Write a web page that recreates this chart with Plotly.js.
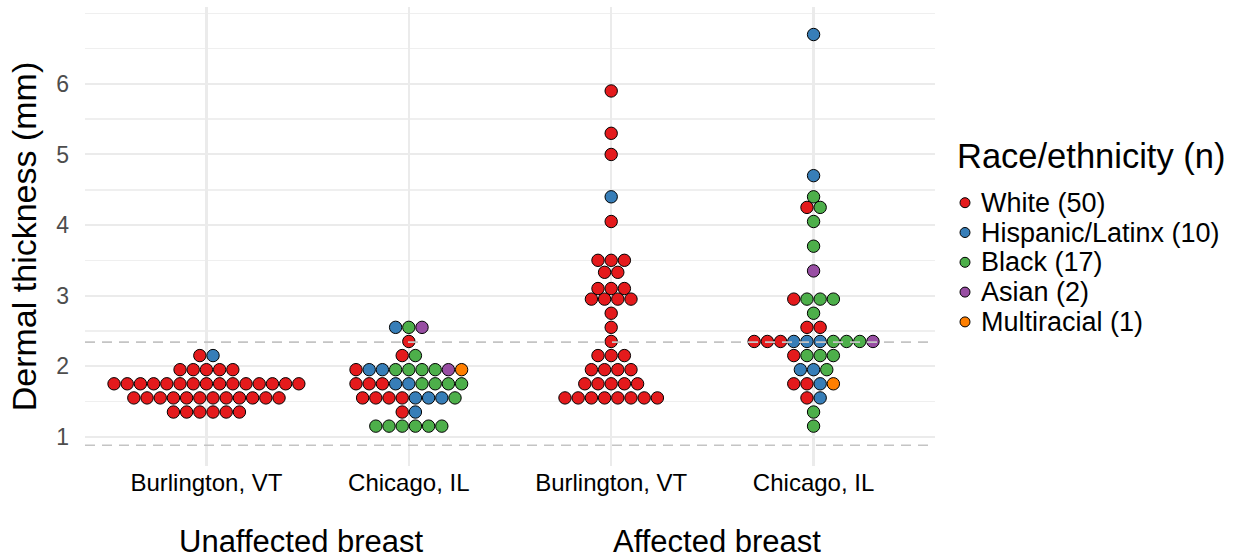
<!DOCTYPE html>
<html><head><meta charset="utf-8">
<script src="https://cdn.plot.ly/plotly-3.0.1.min.js"></script>
<style>html,body{margin:0;padding:0;background:#fff}#chart{width:1234px;height:559px}</style>
</head><body><div id="chart"></div>
<script>
// ---- data ----
const siteLabels = ["Burlington, VT", "Chicago, IL", "Burlington, VT", "Chicago, IL"];
const breastLabels = ["Unaffected breast", "Affected breast"];
const raceCodes = ["W", "H", "B", "A", "M"];
const raceNames = ["White", "Hispanic/Latinx", "Black", "Asian", "Multiracial"];

// each row of dots: binned dermal thickness (mm) and the race code of every dot in the row
const unaffBurlY = [2.15, 1.95, 1.75, 1.55, 1.35];
const unaffBurlRace = ["WH", "WWWWW", "WWWWWWWWWWWWWWW", "WWWWWWWWWWWW", "WWWWWW"];

const unaffChiY = [2.55, 2.35, 2.15, 1.95, 1.75, 1.55, 1.35, 1.15];
const unaffChiRace = ["HBA", "W", "WB", "WHHBBBBAM", "WWWHHBBBB", "WWWWHHHB", "WH", "BBBBBB"];

const affBurlY = [5.9, 5.3, 5.0, 4.4, 4.05, 3.5, 3.33, 3.1, 2.95, 2.75, 2.55, 2.35, 2.15, 1.95, 1.75, 1.55];
const affBurlRace = ["W", "W", "W", "H", "W", "WWW", "WW", "WWW", "WWWW", "W", "W", "W", "WWW", "WWWW", "WWWWW", "WWWWWWWW"];

const affChiY = [6.7, 4.7, 4.4, 4.25, 4.05, 3.7, 3.35, 2.95, 2.75, 2.55, 2.35, 2.15, 1.95, 1.75, 1.55, 1.35, 1.15];
const affChiRace = ["H", "H", "B", "WB", "B", "B", "A", "WBBB", "B", "WW", "WWWHHHBBBA", "WBBB", "HHB", "WWHM", "WH", "B", "B"];

const refLines = [2.34, 0.88];

// ---- styles / layout ----
const raceColors = ["#E41A1C", "#377EB8", "#4DAF4A", "#984EA3", "#FF7F00"];
const W = 1234, H = 559;
const M = {l: 85, r: 299, t: 7, b: 93};
const xRange = [0.4, 4.6], yRange = [0.585, 7.09];
const FONT = "Liberation Sans, Arial, Helvetica, sans-serif";
const plotW = W - M.l - M.r, plotH = H - M.t - M.b;
const pxPerX = plotW / (xRange[1] - xRange[0]);
const dotStepPx = 13.2;
const step = dotStepPx / pxPerX;
const px2x = p => (p - M.l) / plotW;
const py2y = p => (H - M.b - p) / plotH;

const groups = [[unaffBurlY, unaffBurlRace], [unaffChiY, unaffChiRace], [affBurlY, affBurlRace], [affChiY, affChiRace]];
const xs = raceCodes.map(() => []), ys = raceCodes.map(() => []);
const nPatients = raceCodes.map(() => 0); // every patient appears once per breast: count the unaffected side
groups.forEach(([yv, rc], gi) => {
  yv.forEach((y, ri) => {
    const codes = rc[ri].split("").sort((a, b) => raceCodes.indexOf(a) - raceCodes.indexOf(b));
    const n = codes.length;
    codes.forEach((c, k) => {
      const r = raceCodes.indexOf(c);
      xs[r].push(gi + 1 + (k - (n - 1) / 2) * step);
      ys[r].push(y);
      if (gi < 2) nPatients[r] += 1;
    });
  });
});

const traces = raceCodes.map((c, r) => ({
  type: "scatter", mode: "markers",
  name: raceNames[r] + " (" + nPatients[r] + ")",
  x: xs[r], y: ys[r],
  marker: {size: 12.4, color: raceColors[r], line: {color: "#000", width: 1}},
  showlegend: false, cliponaxis: false, hoverinfo: "y+name"
}));

const shapes = refLines.map(v => ({
  type: "line", xref: "paper", x0: 0, x1: 1, yref: "y", y0: v, y1: v,
  line: {color: "#C4C4C4", width: 1.6, dash: "10px,7px"}, layer: "above"
}));

const annotations = [];
breastLabels.forEach((t, i) => {
  annotations.push({text: t, xref: "x", x: [1.47, 3.525][i], yref: "paper", y: py2y(541),
    xanchor: "center", yanchor: "middle", showarrow: false, font: {family: FONT, size: 31, color: "#000"}});
});
// custom legend
annotations.push({text: "Race/ethnicity (n)", xref: "paper", x: px2x(955), yref: "paper", y: py2y(156),
  xanchor: "left", yanchor: "middle", showarrow: false, font: {family: FONT, size: 34.5, color: "#000"}});
const legY0 = 202.7, legDy = 29.8;
raceNames.forEach((nm, r) => {
  const cy = legY0 + r * legDy;
  shapes.push({type: "circle", xref: "paper", yref: "paper",
    x0: px2x(960), x1: px2x(970), y0: py2y(cy + 5), y1: py2y(cy - 5),
    fillcolor: raceColors[r], line: {color: "#000", width: 1}});
  annotations.push({text: nm + " (" + nPatients[r] + ")", xref: "paper", x: px2x(979), yref: "paper", y: py2y(cy),
    xanchor: "left", yanchor: "middle", showarrow: false, font: {family: FONT, size: 27, color: "#000"}});
});

const layout = {
  width: W, height: H, margin: M,
  paper_bgcolor: "#fff", plot_bgcolor: "#fff",
  font: {family: FONT},
  showlegend: false,
  xaxis: {range: xRange, tickmode: "array", tickvals: [1, 2, 3, 4], ticktext: siteLabels,
    showgrid: true, gridcolor: "#EBEBEB", gridwidth: 2.5, zeroline: false, showline: false, ticks: "",
    tickfont: {family: FONT, size: 24, color: "#000"}, fixedrange: true},
  yaxis: {range: yRange, tickmode: "array", tickvals: [1, 2, 3, 4, 5, 6],
    showgrid: true, gridcolor: "#EBEBEB", gridwidth: 2, zeroline: false, showline: false, ticks: "",
    minor: {dtick: 0.5, tick0: 0, showgrid: true, gridcolor: "#EFEFEF", gridwidth: 1.5, ticks: ""},
    tickfont: {family: FONT, size: 23, color: "#4D4D4D"}, ticklabelstandoff: 15,
    title: {text: "Dermal thickness (mm)", font: {family: FONT, size: 34, color: "#000"}, standoff: 9},
    fixedrange: true},
  shapes: shapes, annotations: annotations
};

Plotly.newPlot("chart", traces, layout, {staticPlot: true, displayModeBar: false});
</script>
</body></html>
